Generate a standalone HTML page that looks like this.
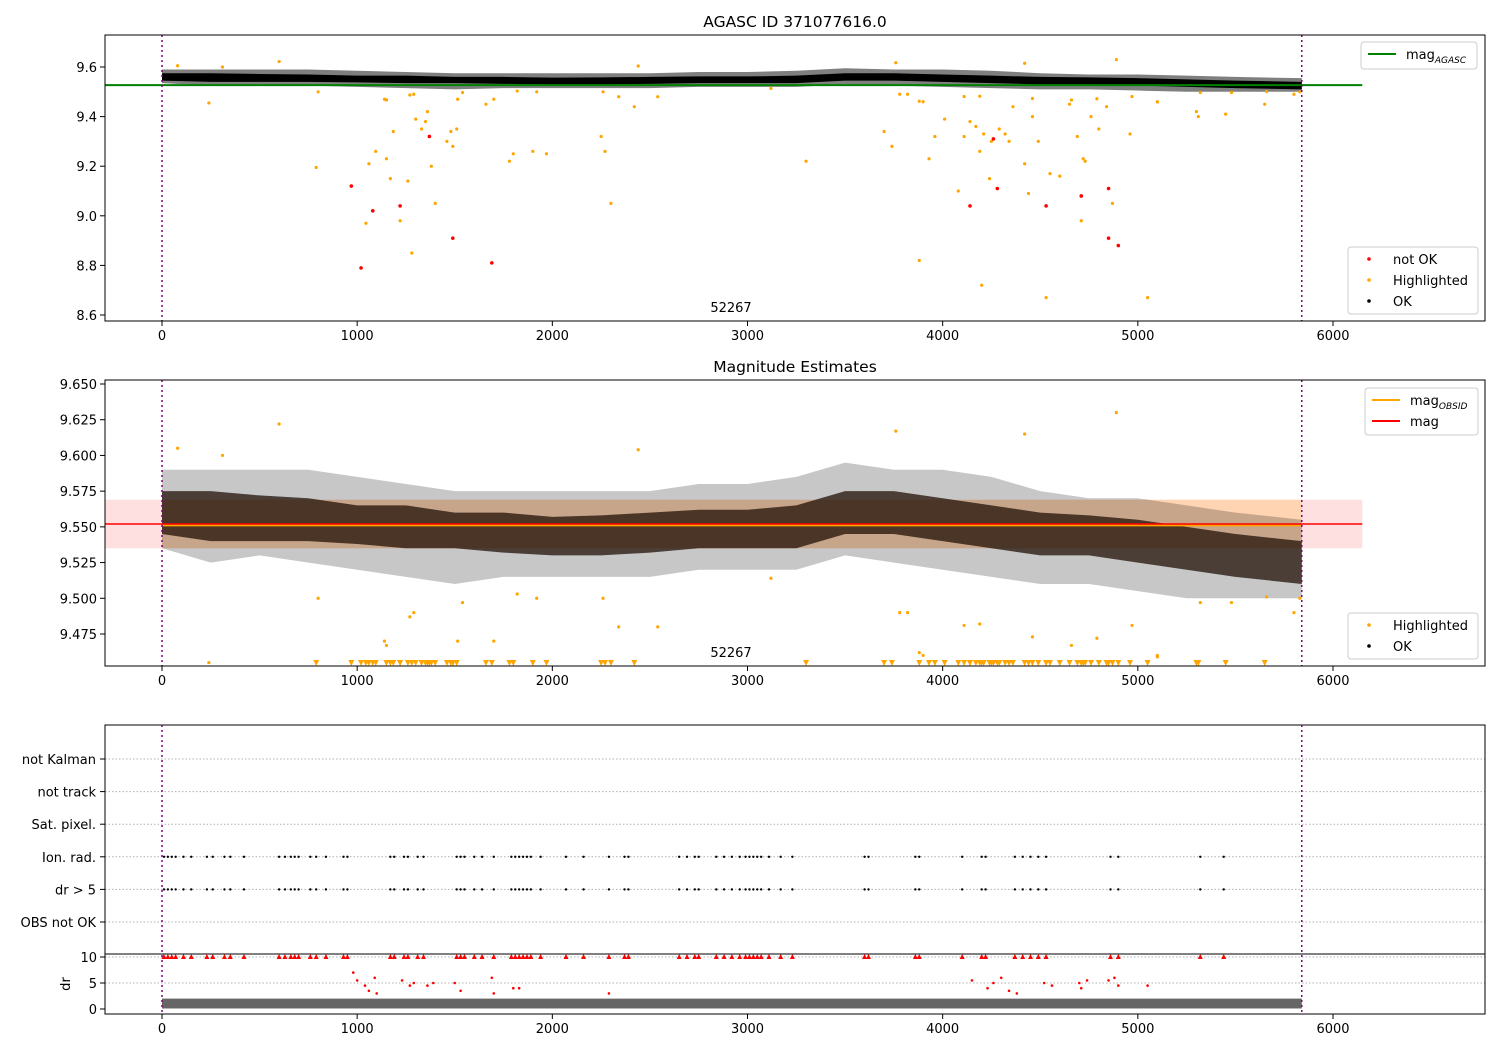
<!DOCTYPE html>
<html><head><meta charset="utf-8"><style>
html,body{margin:0;padding:0;background:#fff;}
svg text{font-family:"DejaVu Sans","Liberation Sans",sans-serif;fill:#000;}
</style></head><body>
<svg id="chart" xmlns="http://www.w3.org/2000/svg" width="1500" height="1050" viewBox="0 0 1500 1050">
<rect width="1500" height="1050" fill="#fff"/>
<g id="g"></g>
</svg>
<script>
// Band envelopes (dense OK points)
const binX = [0,250,500,750,1000,1250,1500,1750,2000,2250,2500,2750,3000,3250,3500,3750,4000,4250,4500,4750,5000,5250,5500,5840];
const coreLo = [9.545,9.54,9.54,9.54,9.538,9.535,9.535,9.532,9.53,9.53,9.532,9.535,9.535,9.535,9.545,9.545,9.54,9.535,9.53,9.53,9.525,9.52,9.515,9.51];
const coreHi = [9.575,9.575,9.572,9.57,9.565,9.565,9.56,9.56,9.557,9.558,9.56,9.562,9.562,9.565,9.575,9.575,9.57,9.565,9.56,9.558,9.555,9.55,9.545,9.54];
const outLo = [9.535,9.525,9.53,9.525,9.52,9.515,9.51,9.515,9.515,9.515,9.515,9.52,9.52,9.52,9.53,9.525,9.52,9.515,9.51,9.51,9.505,9.5,9.5,9.5];
const outHi = [9.59,9.59,9.59,9.59,9.585,9.58,9.575,9.575,9.575,9.575,9.575,9.58,9.58,9.585,9.595,9.59,9.59,9.585,9.575,9.57,9.57,9.565,9.56,9.555];
const highlighted = [[240,9.455],[790,9.195],[800,9.5],[1045,8.97],[1060,9.21],[1095,9.26],[1140,9.47],[1150,9.23],[1170,9.15],[1185,9.34],[1220,8.98],[1260,9.14],[1280,8.85],[1290,9.49],[1300,9.39],[1330,9.35],[1350,9.38],[1360,9.42],[1380,9.2],[1400,9.05],[1460,9.3],[1480,9.34],[1490,9.28],[1510,9.35],[1515,9.47],[1660,9.45],[1700,9.47],[1780,9.22],[1800,9.25],[1900,9.26],[1970,9.25],[2250,9.32],[2270,9.26],[2300,9.05],[2420,9.44],[2540,9.48],[3300,9.22],[3700,9.34],[3740,9.28],[3820,9.49],[3880,8.82],[3900,9.46],[3930,9.23],[3960,9.32],[4010,9.39],[4080,9.1],[4110,9.32],[4140,9.38],[4170,9.36],[4190,9.26],[4200,8.72],[4210,9.33],[4240,9.15],[4250,9.3],[4290,9.35],[4320,9.33],[4340,9.3],[4360,9.44],[4420,9.21],[4440,9.09],[4460,9.4],[4490,9.3],[4530,8.67],[4550,9.17],[4600,9.16],[4650,9.45],[4690,9.32],[4710,8.98],[4720,9.23],[4730,9.22],[4760,9.4],[4800,9.35],[4840,9.44],[4870,9.05],[4890,9.63],[4960,9.33],[5050,8.67],[5100,9.46],[5300,9.42],[5310,9.4],[5450,9.41],[5650,9.45],[5830,9.5],[80,9.605],[310,9.6],[600,9.622],[2440,9.604],[3760,9.617],[4420,9.615],[1150,9.467],[1270,9.487],[1540,9.497],[1820,9.503],[1920,9.5],[2260,9.5],[2340,9.48],[3120,9.514],[3780,9.49],[3880,9.462],[4110,9.481],[4190,9.482],[4460,9.473],[4660,9.467],[4790,9.472],[4970,9.481],[5100,9.459],[5320,9.497],[5480,9.497],[5660,9.501],[5800,9.49]];
const notOk = [[970,9.12],[1020,8.79],[1080,9.02],[1220,9.04],[1370,9.32],[1490,8.91],[1690,8.81],[4140,9.04],[4260,9.31],[4280,9.11],[4530,9.04],[4710,9.08],[4850,9.11],[4850,8.91],[4900,8.88]];
const flagTimes = [10,30,50,70,110,150,230,260,320,350,420,600,630,660,680,700,760,790,840,930,950,1170,1190,1240,1260,1310,1340,1510,1530,1550,1600,1640,1700,1790,1810,1830,1850,1870,1890,1940,2070,2160,2290,2370,2390,2650,2690,2730,2750,2840,2880,2920,2960,2990,3010,3030,3050,3070,3110,3170,3230,3600,3620,3860,3880,4100,4200,4220,4370,4410,4450,4490,4530,4860,4900,5320,5440];
const drOutliers = [[980,7],[1000,5.5],[1040,4.5],[1060,3.5],[1090,6],[1100,3],[1230,5.5],[1270,4.5],[1290,5],[1360,4.5],[1390,5],[1500,5],[1530,3.5],[1690,6],[1700,3],[1800,4],[1830,4],[2290,3],[4150,5.5],[4230,4],[4260,5],[4300,6],[4340,3.5],[4380,3],[4520,5],[4560,4.5],[4700,5],[4710,4],[4740,5.5],[4850,5.5],[4880,6],[4900,4.5],[5050,4.5]];
const xTicks = [0,1000,2000,3000,4000,5000,6000];
const y1Ticks = [8.6,8.8,9.0,9.2,9.4,9.6];
const y2Ticks = [9.475,9.5,9.525,9.55,9.575,9.6,9.625,9.65];
const categories = ["OBS not OK","dr > 5","Ion. rad.","Sat. pixel.","not track","not Kalman"];
const drTicks = [0,5,10];
const magAgasc = 9.527, magMean = 9.552, magObsid = 9.551, magLo = 9.535, magHi = 9.569;

const NS="http://www.w3.org/2000/svg", G=document.getElementById('g');
function el(t,a,p){const e=document.createElementNS(NS,t);for(const k in a)e.setAttribute(k,a[k]);(p||G).appendChild(e);return e;}
const X = v => 162 + v*(1171/6000);
const Y1 = v => 67 + (9.6-v)*248;
const Y2 = v => 384 + (9.65-v)*(250/0.175);
const YC = i => 922 - i*32.6;
const YD = v => 1009 - v*5.2;
const L=105,R=1485;

function frame(top,bot,name){
  const r=el('rect',{x:L,y:top,width:R-L,height:bot-top,fill:'none',stroke:'#000','stroke-width':1});
  
  
}
function xAxis(bot,name){
  const g=el('g',{});
  
  
  xTicks.forEach(t=>{el('line',{x1:X(t),x2:X(t),y1:bot,y2:bot+5,stroke:'#000'},g);
    const tx=el('text',{x:X(t),y:bot+19,'font-size':13,'text-anchor':'middle'},g);tx.textContent=t;});
}
function yAxis(ticks,f,fmt,name){
  const g=el('g',{});
  
  
  ticks.forEach(t=>{const y=f(t);el('line',{x1:L-5,x2:L,y1:y,y2:y,stroke:'#000'},g);
    const tx=el('text',{x:L-8,y:y+5,'font-size':13,'text-anchor':'end'},g);tx.textContent=fmt(t);});
}
function band(lo,hi,f,fill,op,name){
  let pts=binX.map((x,i)=>X(x)+','+f(hi[i]));
  pts=pts.concat(binX.map((x,i)=>X(x)+','+f(lo[i])).reverse());
  const p=el('polygon',{points:pts.join(' '),fill:fill,'fill-opacity':op});
  
  
}
function vlines(top,bot){
  [0,5840].forEach(v=>{const l=el('line',{x1:X(v),x2:X(v),y1:top,y2:bot,stroke:'purple','stroke-width':1.5,'stroke-dasharray':'2,3'});
    
    });
}
function dots(arr,f,col,r,name,clipTop,clipBot){
  arr.forEach(d=>{const y=f(d[1]);if(y<clipTop||y>clipBot)return;
    const c=el('circle',{cx:X(d[0]),cy:y,r:r,fill:col});
    
    });
}
function title(txt,y,name){const t=el('text',{x:795,y:y,'font-size':15.5,'text-anchor':'middle'});t.textContent=txt;
  }
function label(txt,x,y){const t=el('text',{x:x,y:y,'font-size':13,'text-anchor':'middle'});t.textContent=txt;
  }

// Panel 1
title('AGASC ID 371077616.0',27,'chart-title');
band(outLo,outHi,Y1,'#000',0.5,'ok-outer-band-panel1');
band(coreLo,coreHi,Y1,'#000',1,'ok-band-panel1');
let l=el('line',{x1:L,x2:X(6150),y1:Y1(magAgasc),y2:Y1(magAgasc),stroke:'green','stroke-width':2});

dots(highlighted,Y1,'orange',1.6,'highlighted-point',35,321);
dots(notOk,Y1,'red',1.8,'not-ok-point',35,321);
vlines(35,321);
label('52267',731,312);
frame(35,321,'panel1-frame');xAxis(321,'panel1-x-axis');
yAxis(y1Ticks,Y1,v=>v.toFixed(1),'panel1-y-axis');

// Panel 2
title('Magnitude Estimates',372,'panel2-title');
let r=el('rect',{x:L,y:Y2(magHi),width:X(6150)-L,height:Y2(magLo)-Y2(magHi),fill:'red','fill-opacity':0.12});

r=el('rect',{x:X(0),y:Y2(magHi),width:X(5840)-X(0),height:Y2(magLo)-Y2(magHi),fill:'orange','fill-opacity':0.2});

band(outLo,outHi,Y2,'#000',0.22,'ok-outer-band-panel2');
band(coreLo,coreHi,Y2,'#1a0a00',0.72,'ok-core-band-panel2');
l=el('line',{x1:X(0),x2:X(5840),y1:Y2(magObsid),y2:Y2(magObsid),stroke:'orange','stroke-width':2});

l=el('line',{x1:L,x2:X(6150),y1:Y2(magMean),y2:Y2(magMean),stroke:'red','stroke-width':1.5});

dots(highlighted,Y2,'orange',1.6,'highlighted-point',380,666);
highlighted.concat(notOk).forEach(d=>{if(Y2(d[1])<=666)return;const x=X(d[0]);
  const p=el('polygon',{points:`${x-3},660 ${x+3},660 ${x},666`,fill:'orange'});
  });
vlines(380,666);
label('52267',731,657);
frame(380,666,'panel2-frame');xAxis(666,'panel2-x-axis');
yAxis(y2Ticks,Y2,v=>v.toFixed(3),'panel2-y-axis');

// Panel 3 flags
categories.forEach((c,i)=>{const y=YC(i);
  const gl=el('line',{x1:L,x2:R,y1:y,y2:y,stroke:'#b0b0b0','stroke-dasharray':'1.5,2'});
  
  const t=el('text',{x:L-9,y:y+5,'font-size':13,'text-anchor':'end'});t.textContent=c;
  
  el('line',{x1:L-5,x2:L,y1:y,y2:y,stroke:'#000'});});
[1,2].forEach(i=>flagTimes.forEach(t=>{
  const c=el('circle',{cx:X(t),cy:YC(i),r:1.2,fill:'#000'});
  }));
frame(725,954,'flags-frame');
// dr panel
[5,10].forEach(v=>{const gl=el('line',{x1:L,x2:R,y1:YD(v),y2:YD(v),stroke:'#b0b0b0','stroke-dasharray':'1.5,2'});
  });
r=el('rect',{x:X(0),y:YD(2),width:X(5840)-X(0),height:YD(0.1)-YD(2),fill:'#000','fill-opacity':0.6});

dots(drOutliers,YD,'red',1.3,'dr-outlier',954,1014);
flagTimes.forEach(t=>{const x=X(t),y=YD(10);
  const p=el('polygon',{points:`${x-2.5},${y+2} ${x+2.5},${y+2} ${x},${y-3}`,fill:'red'});
  });
vlines(725,1014);
frame(954,1014,'dr-frame');xAxis(1014,'dr-x-axis');
yAxis(drTicks,YD,v=>v,'dr-y-axis');
const dl=el('text',{x:70,y:984,'font-size':13,'text-anchor':'middle',transform:'rotate(-90 70 984)'});dl.textContent='dr';


// Legends
function legend(x,y,w,h,items,name){
  const g=el('g',{});
  
  
  el('rect',{x:x,y:y,width:w,height:h,rx:3,fill:'#fff','fill-opacity':0.8,stroke:'#ccc'},g);
  items.forEach((it,i)=>{const cy=y+12+i*21;
    if(it.type==='line')el('line',{x1:x+7,x2:x+35,y1:cy,y2:cy,stroke:it.c,'stroke-width':2},g);
    else el('circle',{cx:x+21,cy:cy,r:1.8,fill:it.c},g);
    const t=el('text',{x:x+45,y:cy+5,'font-size':13},g);t.innerHTML=it.t;});
}
legend(1361,42,116,27,[{type:'line',c:'green',t:'mag<tspan font-size="9" font-style="italic" dy="4">AGASC</tspan>'}],'legend-agasc');
legend(1348,247,130,67,[{type:'dot',c:'red',t:'not OK'},{type:'dot',c:'orange',t:'Highlighted'},{type:'dot',c:'#000',t:'OK'}],'legend-status-panel1');
legend(1365,388,113,47,[{type:'line',c:'orange',t:'mag<tspan font-size="9" font-style="italic" dy="4">OBSID</tspan>'},{type:'line',c:'red',t:'mag'}],'legend-mag-panel2');
legend(1348,613,130,46,[{type:'dot',c:'orange',t:'Highlighted'},{type:'dot',c:'#000',t:'OK'}],'legend-status-panel2');
</script>
</body></html>
